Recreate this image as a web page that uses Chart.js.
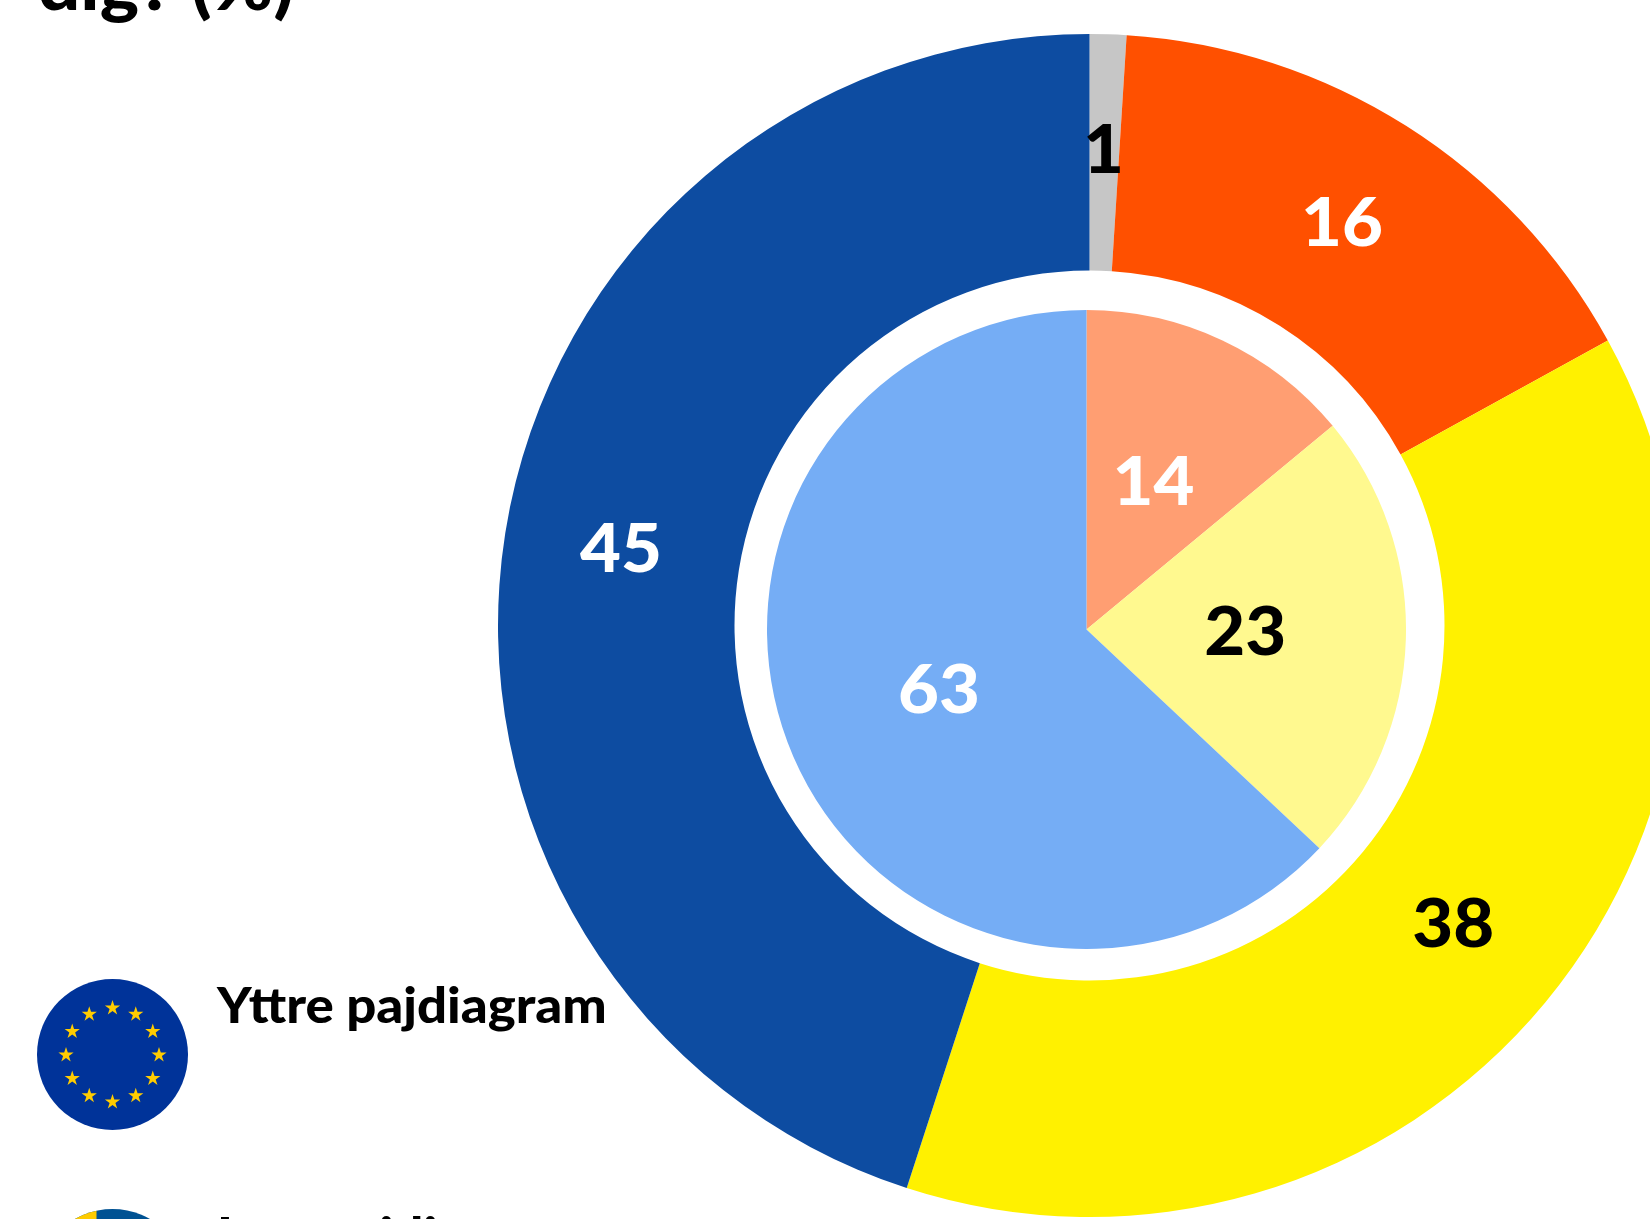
<!DOCTYPE html>
<html lang="sv">
<head>
<meta charset="utf-8">
<title>dig? (%)</title>
<script src="https://cdn.jsdelivr.net/npm/chart.js@4"></script>
<style>
  html, body { margin: 0; padding: 0; background: #fff; }
  body { position: relative; width: 1650px; height: 1219px; overflow: hidden; font-family: Lato, sans-serif; color: #000; }
  canvas, svg, .txt { position: absolute; }
  .txt { font-weight: 900; white-space: nowrap; line-height: 1; transform-origin: left top; }
  #title { left: 38px; top: -52px; font-size: 70px; transform: scaleX(1.06); }
  .legend { left: 217px; font-size: 49px; transform: scaleX(1.076); }
</style>
</head>
<body>
<div class="txt" id="title">dig? (%)</div>

<canvas id="outerChart" width="1183" height="1183" style="left:498px;top:34px"></canvas>
<canvas id="innerChart" width="639" height="639" style="left:767px;top:310px"></canvas>

<svg id="flagEu" width="151" height="151" viewBox="-75.5 -75.5 151 151" style="left:37px;top:979px"></svg>
<div class="txt legend" id="legendOuter" style="top:980px"></div>
<svg id="flagSe" width="151" height="151" viewBox="-75.5 -75.5 151 151" style="left:37px;top:1209px">
  <defs><clipPath id="seClip"><circle r="75.5"/></clipPath></defs>
  <g clip-path="url(#seClip)">
    <rect x="-76" y="-76" width="152" height="152" fill="#005293"/>
    <rect x="-76" y="-76" width="60" height="152" fill="#FECB00"/>
  </g>
</svg>
<div class="txt legend" id="legendInner" style="top:1210px"></div>

<script>
const legendLabels = ["Yttre pajdiagram", "Inre pajdiagram"];

// OUTER RING
const outerLabels = ["Övrigt", "Orange", "Gul", "Blå"];
const outerValues = [1, 16, 38, 45];
const outerColors = ["#C6C6C6", "#FF5000", "#FFF100", "#0D4CA1"];
const outerText = ["#000", "#fff", "#000", "#fff"];

// INNER PIE
const innerLabels = ["Orange", "Gul", "Blå"];
const innerValues = [14, 23, 63];
const innerColors = ["#FF9E72", "#FFF98F", "#75ADF5"];
const innerText = ["#fff", "#000", "#fff"];

const valueLabels = {
  id: "valueLabels",
  afterDatasetsDraw(chart, args, opts) {
    const ctx = chart.ctx;
    const values = chart.data.datasets[0].data;
    ctx.font = "900 66px Lato, sans-serif";
    ctx.textAlign = "center";
    ctx.textBaseline = "middle";
    chart.getDatasetMeta(0).data.forEach((arc, i) => {
      const p = arc.getCenterPoint();
      ctx.save();
      ctx.translate(p.x - 1, p.y - 1);
      ctx.scale(1.07, 1);
      ctx.fillStyle = opts.colors[i];
      ctx.fillText(values[i], 0, 0);
      ctx.restore();
    });
  },
};

function makeChart(id, type, labels, values, colors, textColors, cutout) {
  new Chart(document.getElementById(id), {
    type: type,
    data: {
      labels: labels,
      datasets: [{ data: values, backgroundColor: colors, borderWidth: 0 }],
    },
    options: {
      responsive: false,
      animation: false,
      cutout: cutout,
      plugins: {
        legend: { display: false },
        tooltip: { enabled: false },
        valueLabels: { colors: textColors },
      },
    },
    plugins: [valueLabels],
  });
}

makeChart("outerChart", "doughnut", outerLabels, outerValues, outerColors, outerText, 355);
makeChart("innerChart", "pie", innerLabels, innerValues, innerColors, innerText, 0);

document.getElementById("legendOuter").textContent = legendLabels[0];
document.getElementById("legendInner").textContent = legendLabels[1];

// EU flag stars
const star = (x, y, r) => {
  let pts = [];
  for (let k = 0; k < 10; k++) {
    const a = -Math.PI / 2 + (k * Math.PI) / 5;
    const rad = k % 2 ? r * 0.382 : r;
    pts.push((x + rad * Math.cos(a)).toFixed(2) + "," + (y + rad * Math.sin(a)).toFixed(2));
  }
  return '<polygon points="' + pts.join(" ") + '" fill="#FFCC00"/>';
};
let euSvg = '<circle r="75.5" fill="#003399"/>';
for (let i = 0; i < 12; i++) {
  const a = (i * Math.PI) / 6;
  euSvg += star(46.5 * Math.cos(a), 47 * Math.sin(a) + 0.5, 8);
}
document.getElementById("flagEu").innerHTML = euSvg;
</script>
</body>
</html>
